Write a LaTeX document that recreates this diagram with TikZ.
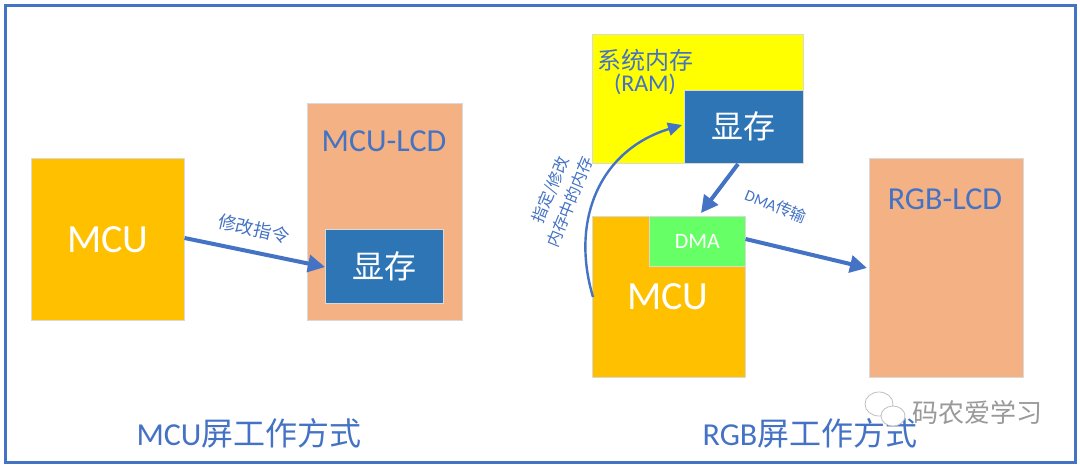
\documentclass[tikz,border=0pt]{standalone}
\usepackage{fontspec}
\setmainfont{Carlito}
\newfontfamily\cjk{Noto Sans CJK SC}
\usetikzlibrary{arrows.meta}
\definecolor{frameblue}{HTML}{4472C4}
\definecolor{mcuorange}{HTML}{FFC000}
\definecolor{lcdpeach}{HTML}{F4B183}
\definecolor{vramblue}{HTML}{2E75B6}
\definecolor{dmagreen}{HTML}{66FF66}
\definecolor{ramyellow}{HTML}{FFFF00}
\tikzset{
  box/.style={draw=black!15, line width=0.6pt, anchor=north west, inner sep=0pt},
  conn/.style={draw=frameblue, line width=4pt, -{Triangle[length=17pt,width=17pt]}},
  thin conn/.style={draw=frameblue, line width=2.4pt, -{Triangle[length=14pt,width=13pt]}},
  bluetxt/.style={text=frameblue},
}
\newcommand{\fs}[1]{\fontsize{#1}{#1}\selectfont}
\begin{document}
\begin{tikzpicture}[x=1pt,y=-1pt]
\useasboundingbox (0,0) rectangle (1080,467);
\fill[white] (0,0) rectangle (1080,467);
\draw[frameblue, line width=3pt] (5,5) rectangle (1075,462);

% left side
\node[box, fill=mcuorange, minimum width=153pt, minimum height=162pt] (mcuL) at (31,158) {};
\node[text=white] (mcuLtxt) at (mcuL.center) {\fs{40}MCU};
\node[box, fill=lcdpeach, minimum width=155pt, minimum height=217pt] (lcdL) at (307,103) {};
\node[bluetxt] (lcdLtxt) at (384,141) {\fs{32}MCU-LCD};
\node[box, fill=vramblue, minimum width=118pt, minimum height=74pt] (vramL) at (325,229) {};
\node[text=white] (vramLtxt) at (vramL.center) {\cjk\fs{32}显存};
\draw[conn] (mcuL.east |- 0,238) -- (vramL.west |- 0,267);
\node[bluetxt, rotate=-13] (lbl1) at (254,229) {\cjk\fs{18}修改指令};

% right side
\node[box, fill=ramyellow, minimum width=211pt, minimum height=129pt] (ram) at (592,34) {};
\node[bluetxt, align=center] (ramtxt) at (645,72) {\cjk\fs{24}系统内存\\[2pt]\fs{24}(RAM)};
\node[box, fill=vramblue, minimum width=119pt, minimum height=73pt] (vramR) at (684,90) {};
\node[text=white] (vramRtxt) at (vramR.center) {\cjk\fs{32}显存};
\node[box, fill=mcuorange, minimum width=153pt, minimum height=161pt] (mcuR) at (592,216) {};
\node[text=white] (mcuRtxt) at (668,297) {\fs{40}MCU};
\node[box, fill=dmagreen, minimum width=96pt, minimum height=50pt] (dma) at (649,216) {};
\node[text=white] (dmatxt) at (dma.center) {\fs{22}DMA};
\node[box, fill=lcdpeach, minimum width=154pt, minimum height=219pt] (rgb) at (869,158) {};
\node[bluetxt] (rgbtxt) at (945,199) {\fs{32}RGB-LCD};

\draw[conn] (738,164) -- (701,213);
\node[bluetxt, rotate=-22] (lbl2) at (776,206) {\fs{16}DMA\cjk 传输};
\draw[conn] (dma.east |- 0,239) -- (867,268);
\draw[thin conn] (593,297) .. controls (570,220) and (600,150) .. (682,125);
\node[bluetxt, rotate=68] (lbl3a) at (551,190) {\cjk\fs{16}指定/修改};
\node[bluetxt, rotate=68] (lbl3b) at (570,202) {\cjk\fs{16}内存中的内存};

% titles
\node[bluetxt] (t1) at (249,433) {\fs{32}MCU\cjk 屏工作方式};
\node[bluetxt] (t2) at (810,433) {\fs{32}RGB\cjk 屏工作方式};

% watermark
\begin{scope}[draw=gray!50, fill=white, line width=0.8pt]
\filldraw (879,404) ellipse (14pt and 12pt);
\filldraw (893,416) ellipse (12pt and 10pt);
\end{scope}
\node[text=gray!80] (wm) at (977,413) {\cjk\fs{26}码农爱学习};
\end{tikzpicture}
\end{document}
